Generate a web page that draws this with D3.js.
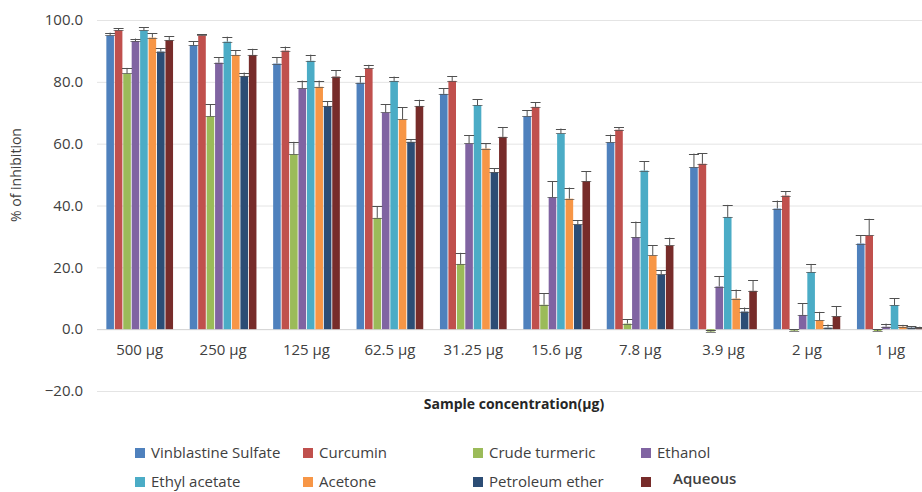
<!DOCTYPE html>
<html>
<head>
<meta charset="utf-8">
<script src="https://cdn.jsdelivr.net/npm/d3@7"></script>
<style>
  body { margin: 0; background: #fff; }
  svg { display: block; font-family: "Open Sans", sans-serif; }
</style>
</head>
<body>
<div id="chart"></div>
<script>
// categories on the x axis
var categories = ["500 µg", "250 µg", "125 µg", "62.5 µg", "31.25 µg", "15.6 µg", "7.8 µg", "3.9 µg", "2 µg", "1 µg"];

var seriesNames = ["Vinblastine Sulfate", "Curcumin", "Crude turmeric", "Ethanol",
                   "Ethyl acetate", "Acetone", "Petroleum ether", "Aqueous"];
var seriesColors = ["#4f81bd", "#c0504d", "#9bbb59", "#8064a2", "#4bacc6", "#f79646", "#2c4d75", "#772c2a"];

// % inhibition
var vinblastine = [95.0, 91.9, 85.9, 79.7, 76.1, 68.9, 60.5, 52.4, 39.0, 27.7];
var curcumin    = [96.7, 95.0, 90.1, 84.4, 80.3, 71.9, 64.5, 53.5, 43.2, 30.4];
var crude       = [82.7, 68.9, 56.6, 36.0, 21.1, 7.9, 1.8, -0.8, -0.5, -0.6];
var ethanol     = [93.2, 86.2, 77.9, 70.1, 60.1, 42.7, 29.8, 13.8, 4.6, 0.8];
var ethylAc     = [96.7, 93.0, 86.8, 80.3, 72.5, 63.3, 51.3, 36.3, 18.5, 7.8];
var acetone     = [94.3, 88.7, 78.4, 67.9, 58.4, 42.2, 23.9, 9.9, 2.9, 0.8];
var petEther    = [89.8, 81.9, 72.2, 60.6, 50.8, 33.9, 17.7, 5.7, 0.5, 0.5];
var aqueous     = [93.5, 88.7, 81.7, 72.2, 62.2, 47.9, 27.1, 12.4, 4.2, 0.3];

// error bar sizes
var vinblastineErr = [0.9, 1.3, 2.0, 2.2, 1.8, 1.9, 2.4, 4.4, 2.6, 2.7];
var curcuminErr    = [0.6, 0.4, 1.3, 1.1, 1.6, 1.5, 0.8, 3.4, 1.4, 5.3];
var crudeErr       = [1.8, 3.8, 4.0, 3.8, 3.6, 3.7, 1.4, 0.6, 0.5, 0.5];
var ethanolErr     = [0.8, 1.8, 2.5, 2.6, 2.7, 5.1, 5.0, 3.4, 3.8, 1.0];
var ethylAcErr     = [0.9, 1.6, 2.0, 1.4, 1.8, 1.6, 3.0, 3.9, 2.6, 2.2];
var acetoneErr     = [1.4, 1.6, 2.0, 3.8, 1.8, 3.6, 3.3, 2.9, 2.7, 0.6];
var petEtherErr    = [1.1, 1.1, 1.6, 0.9, 1.3, 1.3, 1.3, 1.3, 1.0, 0.5];
var aqueousErr     = [1.2, 2.0, 2.0, 2.0, 3.2, 3.2, 2.5, 3.5, 3.3, 0.5];

var yTicks = [-20, 0, 20, 40, 60, 80, 100];

var values = [vinblastine, curcumin, crude, ethanol, ethylAc, acetone, petEther, aqueous];
var errors = [vinblastineErr, curcuminErr, crudeErr, ethanolErr, ethylAcErr, acetoneErr, petEtherErr, aqueousErr];

var width = 922, height = 492;
var plotLeft = 98, plotRight = 932, plotTop = 20, plotBottom = 391;

var svg = d3.select("#chart").append("svg")
    .attr("width", width)
    .attr("height", height);

var x0 = d3.scaleBand()
    .domain(categories)
    .range([plotLeft, plotRight])
    .paddingInner(0.18)
    .paddingOuter(0.09);

var x1 = d3.scaleBand()
    .domain(d3.range(seriesNames.length))
    .range([0, x0.bandwidth()])
    .padding(0.1);

var y = d3.scaleLinear()
    .domain([-20, 100])
    .range([plotBottom, plotTop]);

// gridlines
svg.append("g")
    .selectAll("line")
    .data(yTicks)
    .enter().append("line")
    .attr("x1", plotLeft - 1)
    .attr("x2", width)
    .attr("y1", function(d) { return y(d) + 0.5; })
    .attr("y2", function(d) { return y(d) + 0.5; })
    .attr("stroke", function(d) { return d == 0 ? "#d0d0d0" : "#e4e4e4"; })
    .attr("stroke-width", 1);

// y axis labels
var yAxis = svg.append("g")
    .attr("transform", "translate(" + (plotLeft - 12) + ",0)")
    .call(d3.axisLeft(y).tickValues(yTicks).tickSize(0).tickFormat(d3.format(".1f")));
yAxis.select(".domain").remove();
yAxis.selectAll("text")
    .attr("font-family", "Open Sans, sans-serif")
    .attr("font-size", 15)
    .attr("fill", "#404040");

// bars
var groups = svg.append("g")
    .selectAll("g")
    .data(categories)
    .enter().append("g")
    .attr("transform", function(d) { return "translate(" + x0(d) + ",0)"; });

groups.selectAll("rect")
    .data(function(d, i) {
        return values.map(function(s, k) { return {k: k, v: s[i], e: errors[k][i]}; });
    })
    .enter().append("rect")
    .attr("x", function(d) { return x1(d.k); })
    .attr("width", x1.bandwidth())
    .attr("y", function(d) { return y(Math.max(0, d.v)); })
    .attr("height", function(d) { return Math.abs(y(d.v) - y(0)); })
    .attr("fill", function(d) { return seriesColors[d.k]; });

// error bars (plus direction, with caps)
var err = groups.selectAll("g.err")
    .data(function(d, i) {
        return values.map(function(s, k) { return {k: k, v: s[i], e: errors[k][i]}; });
    })
    .enter().append("g")
    .attr("class", "err")
    .attr("stroke", "#505050")
    .attr("stroke-width", 1);

err.append("line")
    .attr("x1", function(d) { return x1(d.k) + x1.bandwidth() / 2; })
    .attr("x2", function(d) { return x1(d.k) + x1.bandwidth() / 2; })
    .attr("y1", function(d) { return y(d.v); })
    .attr("y2", function(d) { return y(d.v + d.e); });

err.append("line")
    .attr("x1", function(d) { return x1(d.k) + x1.bandwidth() / 2 - 5; })
    .attr("x2", function(d) { return x1(d.k) + x1.bandwidth() / 2 + 5; })
    .attr("y1", function(d) { return Math.round(y(d.v + d.e)) + 0.5; })
    .attr("y2", function(d) { return Math.round(y(d.v + d.e)) + 0.5; });

err.append("line")
    .attr("stroke-opacity", 0.7)
    .attr("x1", function(d) { return x1(d.k) + x1.bandwidth() / 2 - 5; })
    .attr("x2", function(d) { return x1(d.k) + x1.bandwidth() / 2 + 5; })
    .attr("y1", function(d) { return Math.round(y(d.v)) + 0.5; })
    .attr("y2", function(d) { return Math.round(y(d.v)) + 0.5; });

// x category labels
svg.append("g")
    .selectAll("text")
    .data(categories)
    .enter().append("text")
    .attr("x", function(d) { return x0(d) + x0.bandwidth() / 2; })
    .attr("y", 355)
    .attr("text-anchor", "middle")
    .attr("font-size", 15)
    .attr("fill", "#404040")
    .text(function(d) { return d; });

// axis titles
svg.append("text")
    .attr("x", 514)
    .attr("y", 409)
    .attr("text-anchor", "middle")
    .attr("font-size", 14)
    .attr("font-weight", "bold")
    .attr("fill", "#262626")
    .text("Sample concentration(µg)");

svg.append("text")
    .attr("transform", "translate(21,175) rotate(-90)")
    .attr("text-anchor", "middle")
    .attr("font-size", 14)
    .attr("fill", "#404040")
    .text("% of inhibition");

// legend
var legendX = [135, 303, 473, 641];
var legendY = [453, 482];

var legend = svg.append("g")
    .selectAll("g")
    .data(seriesNames)
    .enter().append("g")
    .attr("transform", function(d, i) {
        return "translate(" + legendX[i % 4] + "," + legendY[Math.floor(i / 4)] + ")";
    });

legend.append("rect")
    .attr("x", 0)
    .attr("y", -5)
    .attr("width", 10)
    .attr("height", 10)
    .attr("fill", function(d, i) { return seriesColors[i]; });

legend.append("text")
    .attr("x", function(d) { return d == "Aqueous" ? 32 : 16; })
    .attr("y", function(d) { return d == "Aqueous" ? 2 : 5; })
    .attr("font-size", 15)
    .attr("font-weight", function(d) { return d == "Aqueous" ? 600 : 400; })
    .attr("fill", "#404040")
    .text(function(d) { return d; });
</script>
</body>
</html>
